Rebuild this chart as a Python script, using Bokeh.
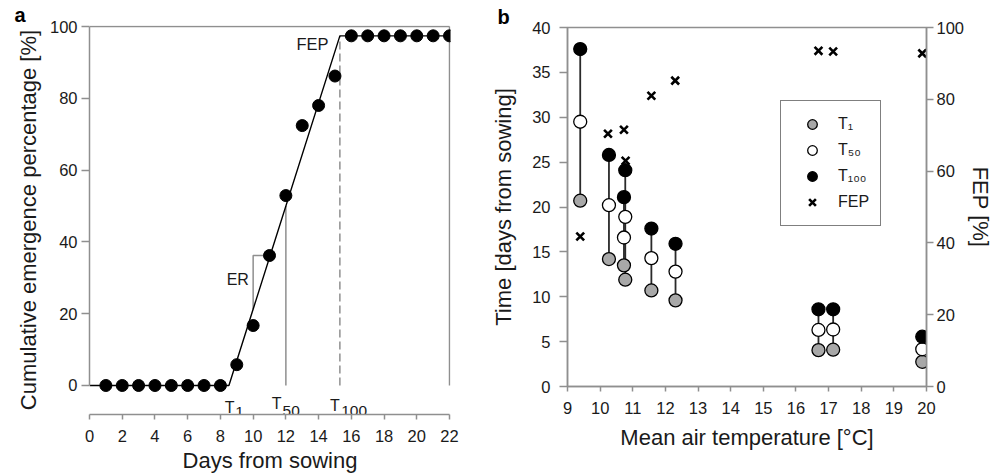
import numpy as np
from bokeh.plotting import figure
from bokeh.layouts import row
from bokeh.models import (Range1d, LinearAxis, SingleIntervalTicker,
                          Legend, LegendItem)
from bokeh.embed import file_html
from bokeh.resources import INLINE
from bokeh.core.properties import value

FONT = "Liberation Sans"
AXIS_GRAY = "#8f8f8f"
TEXT = "#1a1a1a"

# ---------------- Panel a data ----------------
days = [1, 2, 3, 4, 5, 6, 7, 8, 9, 10, 11, 12, 13, 14, 15, 16, 17, 18, 19, 20, 21, 22]
emergence = [0, 0, 0, 0, 0, 0, 0, 0, 5.8, 16.7, 36.2, 52.9, 72.4, 78.0, 86.2,
             97.4, 97.4, 97.4, 97.4, 97.4, 97.4, 97.4]
# fitted linear emergence model
t1_day = 8.52
t50_day = 12.0
t100_day = 15.3
fep_final = 97.4
fit_days = [0, t1_day, t100_day, 22]
fit_pct = [0, 0, fep_final, fep_final]
er_day_start = 10
er_day_end = 11
er_top = 36.2

# ---------------- Panel b data ----------------
temps = [9.39, 10.27, 10.73, 10.77, 11.57, 12.31, 16.69, 17.14, 19.87]
t1_vals = [20.7, 14.2, 13.5, 11.9, 10.7, 9.6, 4.05, 4.1, 2.75]
t50_vals = [29.5, 20.2, 16.6, 18.9, 14.3, 12.8, 6.3, 6.35, 4.15]
t100_vals = [37.6, 25.8, 21.1, 24.1, 17.6, 15.9, 8.6, 8.6, 5.55]
fep_temps = [9.39, 10.24, 10.73, 10.78, 11.57, 12.30, 16.69, 17.14, 19.87]
fep_vals = [41.8, 70.4, 71.5, 62.9, 81.0, 85.2, 93.5, 93.3, 92.8]


def style_axis(ax, tick_out, standoff, label_standoff):
    ax.axis_line_color = AXIS_GRAY
    ax.axis_line_width = 1.5
    ax.major_tick_line_color = AXIS_GRAY
    ax.major_tick_line_width = 1.5
    ax.major_tick_out = tick_out
    ax.major_tick_in = 0
    ax.minor_tick_line_color = None
    ax.major_label_text_font = FONT
    ax.major_label_text_font_size = "16.5px"
    ax.major_label_text_color = TEXT
    ax.major_label_standoff = standoff
    ax.axis_label_text_font = FONT
    ax.axis_label_text_font_size = "22px"
    ax.axis_label_text_font_style = "normal"
    ax.axis_label_text_color = TEXT
    ax.axis_label_standoff = label_standoff


def style_panel_title(p, letter, offset):
    p.title.text = letter
    p.title.text_font = FONT
    p.title.text_font_size = "20px"
    p.title.text_font_style = "bold"
    p.title.text_color = "black"
    p.title.align = "left"
    p.title.offset = offset
    p.title.standoff = 0


# ================= Panel a =================
pa = figure(width=486, height=475, x_range=Range1d(0, 22.06), y_range=Range1d(-8.08, 100.28),
            output_backend="svg", toolbar_location=None,
            min_border_left=89, min_border_right=36, min_border_top=25, min_border_bottom=61)
pa.frame_align = False
pa.xgrid.visible = False
pa.ygrid.visible = False
pa.outline_line_color = None
style_panel_title(pa, "a", -75)

xa = pa.xaxis[0]
xa.ticker = SingleIntervalTicker(interval=2)
xa.bounds = (0, 22)
xa.axis_label = "Days from sowing"
style_axis(xa, 5, 10, 3)
ya = pa.yaxis[0]
ya.ticker = SingleIntervalTicker(interval=20)
ya.bounds = (0, 100)
ya.axis_label = "Cumulative emergence percentage [%]"
style_axis(ya, 8, 4, 6)

# frame borders (top and right)
pa.segment(x0=[0, 22], y0=[100, 0], x1=[22, 22], y1=[100, 100],
           line_color=AXIS_GRAY, line_width=1.5)

# T50 and T100 verticals
fit_at_t50 = float(np.interp(t50_day, fit_days, fit_pct))
pa.segment(x0=[t50_day], y0=[0], x1=[t50_day], y1=[fit_at_t50],
           line_color=AXIS_GRAY, line_width=1.5)
pa.segment(x0=[t100_day], y0=[0], x1=[t100_day], y1=[fep_final],
           line_color=AXIS_GRAY, line_width=1.5, line_dash="8 4")

# ER bracket
fit_at_er = float(np.interp(er_day_start, fit_days, fit_pct))
pa.line(x=[er_day_start, er_day_start, er_day_end], y=[fit_at_er, er_top, er_top],
        line_color=AXIS_GRAY, line_width=1.5)

# fitted line
pa.line(x=fit_days, y=fit_pct, line_color="black", line_width=1.4)

# observations
pa.scatter(x=days, y=emergence, size=12, fill_color="black", line_color="black")

# annotations
pa.text(x=[9.74], y=[29.4], text=["ER"], text_font=value(FONT), text_font_size="16px",
        text_align="right", text_baseline="alphabetic", text_color=TEXT)
pa.text(x=[14.61], y=[95.2], text=["FEP"], text_font=value(FONT), text_font_size="16.5px",
        text_align="right", text_baseline="alphabetic", text_color=TEXT)
pa.text(x=[8.86, 11.74, 15.30], y=[-6.0, -5.1, -5.6], text=["T", "T", "T"],
        text_font=value(FONT), text_font_size="16px", text_align="right",
        text_baseline="alphabetic", text_color=TEXT)
pa.text(x=[8.90, 11.80, 15.38], y=[-7.4, -7.0, -7.2], text=["1", "50", "100"],
        text_font=value(FONT), text_font_size="15.5px", text_align="left",
        text_baseline="alphabetic", text_color=TEXT)

# ================= Panel b =================
pb = figure(width=517, height=475, x_range=Range1d(9, 20), y_range=Range1d(0, 40),
            output_backend="svg", toolbar_location=None,
            min_border_left=81, min_border_right=77, min_border_top=27, min_border_bottom=89)
pb.frame_align = False
pb.xgrid.visible = False
pb.ygrid.visible = False
pb.outline_line_color = AXIS_GRAY
pb.outline_line_width = 1.5
pb.extra_y_ranges = {"fep": Range1d(0, 100)}
style_panel_title(pb, "b", -70)

xb = pb.xaxis[0]
xb.ticker = SingleIntervalTicker(interval=1)
xb.axis_label = "Mean air temperature [°C]"
style_axis(xb, 5, 10, 8)
yb = pb.yaxis[0]
yb.ticker = SingleIntervalTicker(interval=5)
yb.axis_label = "Time [days from sowing]"
style_axis(yb, 8, 9, 13)
yr = LinearAxis(y_range_name="fep", axis_label="FEP [%]")
yr.ticker = SingleIntervalTicker(interval=20)
style_axis(yr, 7, 3, 1)
pb.add_layout(yr, "right")

pb.segment(x0=temps, y0=t1_vals, x1=temps, y1=t100_vals, line_color="#2a2a2a", line_width=1.8)
r_t1 = pb.scatter(x=temps, y=t1_vals, size=13, fill_color="#a8a8a8", line_color="black", line_width=1.3)
r_t50 = pb.scatter(x=temps, y=t50_vals, size=13, fill_color="white", line_color="black", line_width=1.3)
r_t100 = pb.scatter(x=temps, y=t100_vals, size=13, fill_color="black", line_color="black", line_width=1.3)
r_fep = pb.scatter(x=fep_temps, y=fep_vals, y_range_name="fep", marker="x", size=11,
                   line_color="black", line_width=2.6)

legend = Legend(items=[LegendItem(label="T\u2081", renderers=[r_t1]),
                       LegendItem(label="T\u2085\u2080", renderers=[r_t50]),
                       LegendItem(label="T\u2081\u2080\u2080", renderers=[r_t100]),
                       LegendItem(label="FEP", renderers=[r_fep])],
                location=(213, 160), border_line_color="black", border_line_width=1.2,
                background_fill_color="white", background_fill_alpha=1,
                label_text_font=FONT, label_text_font_size="16px", label_text_color=TEXT,
                glyph_width=40, glyph_height=24, label_height=24, spacing=2,
                padding=11, margin=0, label_standoff=6)
pb.add_layout(legend)

layout = row(pa, pb)
open("out.html", "w").write(file_html(layout, INLINE))
